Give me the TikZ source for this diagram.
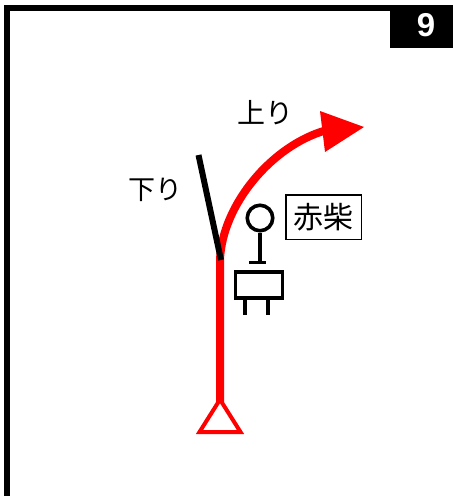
\documentclass[tikz,border=0pt]{standalone}
\usepackage{fontspec}
\newfontfamily\cjk{Noto Sans CJK JP}
\setsansfont{Liberation Sans}
\begin{document}
\begin{tikzpicture}[x=1pt,y=-1pt,
  frame/.style={fill=black,draw=none},
  blackline/.style={draw=black,line width=3.6pt},
  lbl/.style={font=\cjk\fontsize{#1}{30}\selectfont,inner sep=0pt}]
\useasboundingbox (0,0) rectangle (453,496);
\fill[white] (0,0) rectangle (453,496);
% frame
\fill[frame] (4,5) rectangle (453,11);
\fill[frame] (4,5) rectangle (10,496);
\fill[frame] (390,5) rectangle (453,47.5);
\node[text=white,font=\sffamily\bfseries\fontsize{33}{34}\selectfont,inner sep=0pt] (num) at (426,25) {9};
% track
\coordinate (base) at (220,402);
\coordinate (sw) at (220,260);
\coordinate (head) at (327,130);
\coordinate (tip) at (364,127);
\coordinate (hl) at (320,111);
\coordinate (hr) at (325,152);
\coordinate (branch) at (198.5,155);
\draw[draw=red,line width=8pt] (base) -- (sw) .. controls (222,205) and (272,145) .. (head);
\fill[red] (tip) -- (hl) -- (hr) -- cycle;
\draw[draw=black,line width=6pt] (branch) -- (221,260);
% triangle
\coordinate (ta) at (220,399.5);
\coordinate (tb) at (199.5,432);
\coordinate (tc) at (240.5,432);
\draw[draw=red,line width=4pt,miter limit=10] (ta) -- (tb) -- (tc) -- cycle;
% signal
\node[circle,draw=black,line width=3.6pt,minimum size=25.5pt,inner sep=0pt] (lamp) at (260,218) {};
\coordinate (foot) at (260,262.5);
\coordinate (bl) at (249,262.5);
\coordinate (br) at (266,262.5);
\draw[blackline] (lamp.south) -- (foot);
\draw[blackline] (bl) -- (br);
\node[rectangle,draw=black,line width=3.6pt,minimum width=47pt,minimum height=26.5pt,inner sep=0pt] (box) at (259,285) {};
\coordinate (la) at (245,315);
\coordinate (lb) at (268,315);
\draw[blackline] (box.south -| la) -- (la);
\draw[blackline] (box.south -| lb) -- (lb);
% labels
\node[rectangle,draw=black,line width=1.5pt,minimum width=75.5pt,minimum height=44.5pt,inner sep=0pt,lbl=30] (st) at (323.5,217) {赤柴};
\node[lbl=28] (up) at (265,113) {上り};
\node[lbl=27] (down) at (155.5,190) {下り};
\end{tikzpicture}
\end{document}
